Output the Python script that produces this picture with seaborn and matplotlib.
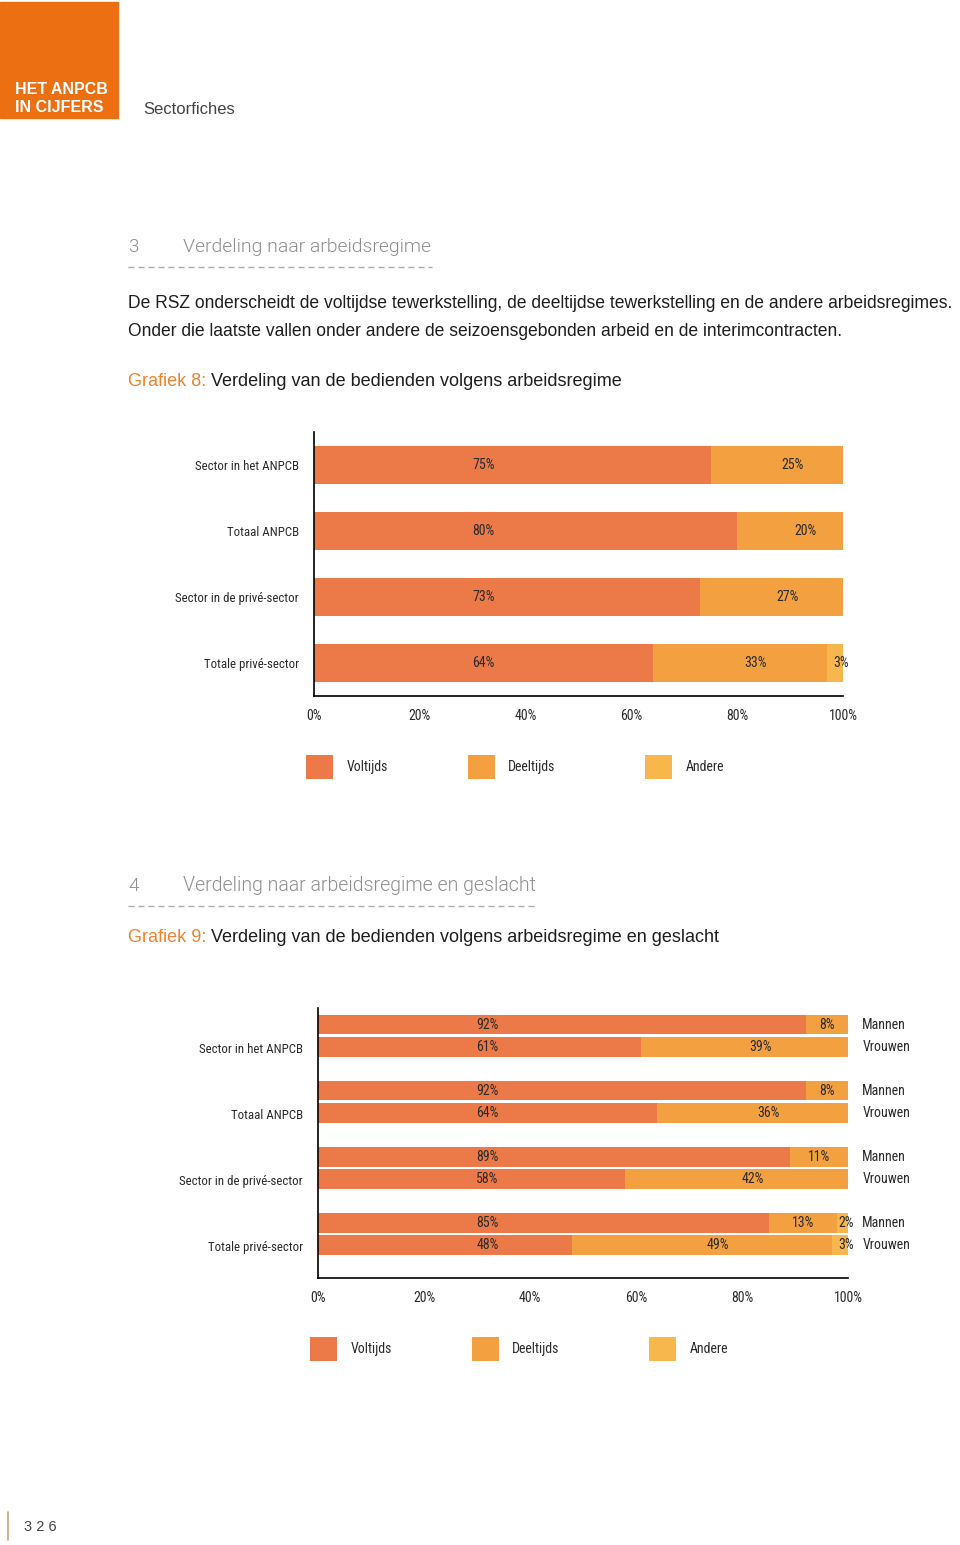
import numpy as np
import pandas as pd
import matplotlib.pyplot as plt
import seaborn as sns
from matplotlib import font_manager as fm
from matplotlib.patches import Rectangle, Patch
from matplotlib.lines import Line2D

# --- Data ---
categories = ["Sector in het ANPCB", "Totaal ANPCB", "Sector in de privé-sector", "Totale privé-sector"]
regimes = ["Voltijds", "Deeltijds", "Andere"]
genders = ["Mannen", "Vrouwen"]
ticks = [0, 20, 40, 60, 80, 100]
tick_labels = ["0%", "20%", "40%", "60%", "80%", "100%"]

# Grafiek 8
g8_voltijds = [75, 80, 73, 64]
g8_deeltijds = [25, 20, 27, 33]
g8_andere = [0, 0, 0, 3]

# Grafiek 9
g9_voltijds_mannen = [92, 92, 89, 85]
g9_deeltijds_mannen = [8, 8, 11, 13]
g9_andere_mannen = [0, 0, 0, 2]
g9_voltijds_vrouwen = [61, 64, 58, 48]
g9_deeltijds_vrouwen = [39, 36, 42, 49]
g9_andere_vrouwen = [0, 0, 0, 3]

# --- Style ---
C_VOLT = '#EC7948'
C_DEEL = '#F3A140'
C_AND = '#F7B74C'
COLORS = [C_VOLT, C_DEEL, C_AND]
ORANGE = '#EC6F12'
TXT = '#2b2b2b'

sns.set_style('white')
plt.rcParams['font.family'] = ['Liberation Sans', 'DejaVu Sans']


def is_regular(f):
    return f.style == 'normal' and f.weight in (400, 'normal', 'regular')


def find_narrow():
    """Look for a condensed sans font file; None if there is none."""
    names = ['Liberation Sans Narrow', 'Roboto Condensed', 'Noto Sans Condensed',
             'Open Sans Condensed', 'DejaVu Sans Condensed', 'Arial Narrow']
    fonts = fm.fontManager.ttflist
    for n in names:
        for f in fonts:
            if f.name == n and is_regular(f):
                return f.fname
    for f in fonts:
        if (f.stretch in ('condensed', 'semi-condensed') and is_regular(f)
                and any(k in f.name for k in ['Sans', 'Roboto', 'Lato', 'Inter'])
                and 'Mono' not in f.name and 'CJK' not in f.name):
            return f.fname
    return None


def find_light():
    """A light-weight sans for the section titles, if installed."""
    for n in ['Roboto', 'Open Sans', 'Lato', 'Inter', 'Noto Sans']:
        for f in fm.fontManager.ttflist:
            if (f.name == n and f.style == 'normal' and f.weight in (300, 'light')
                    and f.stretch == 'normal'):
                return f.fname
    return None


NARROW_PATH = find_narrow()
LIGHT_PATH = find_light()
CH_SIZE = 10 if NARROW_PATH else 8.4


def chart_font(size=CH_SIZE):
    if NARROW_PATH:
        return fm.FontProperties(fname=NARROW_PATH, size=size)
    return fm.FontProperties(family='Liberation Sans', size=size)


W, H = 960, 1545
fig = plt.figure(figsize=(W / 100, H / 100), dpi=100)
renderer = fig.canvas.get_renderer()


def fx(px):
    return px / W


def fy(py):
    return 1 - py / H


def axes_rect(left, top, right, bottom):
    return [fx(left), fy(bottom), (right - left) / W, (bottom - top) / H]


def fit_width(t, width_px):
    """Scale a text's font size so it spans the given width."""
    w = t.get_window_extent(renderer).width
    t.set_fontsize(t.get_fontsize() * width_px / w)


def style_axis(ax, ylim):
    ax.set_xlim(0, 100)
    ax.set_ylim(*ylim)
    ax.set_xlabel('')
    ax.set_ylabel('')
    for s in ['top', 'right']:
        ax.spines[s].set_visible(False)
    for s in ['left', 'bottom']:
        ax.spines[s].set_color('black')
        ax.spines[s].set_linewidth(1.2)
    ax.set_xticks(ticks, tick_labels, fontproperties=chart_font(), color=TXT)
    ax.tick_params(axis='x', direction='in', length=5, width=1.2, color='black', pad=9)
    ax.tick_params(axis='y', length=0, pad=11)
    ax.grid(False)


def value_labels(ax, y, volt, deel, andere):
    kw = dict(fontproperties=chart_font(), color=TXT, va='center', ha='center')
    ax.text(32, y, f'{volt}%', **kw)
    xc = volt + deel / 2 + (3 if deel >= 20 else 0)
    ax.text(xc, y, f'{deel}%', **kw)
    if andere > 0:
        ax.text(99.6, y, f'{andere}%', clip_on=False, **kw)


def legend(y_px, xs_px):
    for name, color, x in zip(regimes, COLORS, xs_px):
        fig.legend([Patch(facecolor=color, edgecolor='none')], [name], loc='center left',
                   bbox_to_anchor=(fx(x), fy(y_px)), frameon=False, handlelength=1.95,
                   handleheight=2.2, handletextpad=0.95, borderpad=0, borderaxespad=0,
                   prop=chart_font(), labelcolor=TXT)


# --- Page header ---
fig.patches.append(Rectangle((0, fy(118)), fx(118), 116 / H, transform=fig.transFigure,
                             color=ORANGE, zorder=0))
fig.text(fx(15), fy(89), 'HET ANPCB', color='white', fontweight='bold', fontsize=11.5, va='center')
fig.text(fx(15), fy(108), 'IN CIJFERS', color='white', fontweight='bold', fontsize=11.5, va='center')
fig.text(fx(143), fy(110), 'Sectorfiches', color='#444444', fontsize=12, va='center')


def section(num, title, y_px, title_end, dash_end):
    if LIGHT_PATH:
        kw = dict(fontproperties=fm.FontProperties(fname=LIGHT_PATH, size=13.6), color='#8f8f8f')
    else:
        kw = dict(fontsize=13.6, color='#a3a3a3')
    fig.text(fx(128), fy(y_px), num, va='center', **kw)
    t = fig.text(fx(183), fy(y_px), title, va='center', **kw)
    fit_width(t, title_end - 183)
    fig.add_artist(Line2D([fx(128), fx(dash_end)], [fy(y_px + 20)] * 2, transform=fig.transFigure,
                          color='#aaaaaa', lw=1, dashes=(4.3, 2.9)))


bg = fig.add_axes([0, 0, 1, 1])
bg.set_axis_off()
bg.set_zorder(-1)


def grafiek(label, title, y_px):
    t = bg.text(fx(128), fy(y_px), label, color='#EE812F', fontsize=13, va='center')
    bg.annotate(' ' + title, xy=(1, 0.5), xycoords=t, va='center', color='#1e1e1e', fontsize=13)


section('3', 'Verdeling naar arbeidsregime', 247, 431, 432)
fig.text(fx(128), fy(304), 'De RSZ onderscheidt de voltijdse tewerkstelling, de deeltijdse '
         'tewerkstelling en de andere arbeidsregimes.', color='#1e1e1e', fontsize=12.65, va='center')
fig.text(fx(128), fy(331), 'Onder die laatste vallen onder andere de seizoensgebonden arbeid '
         'en de interimcontracten.', color='#1e1e1e', fontsize=12.65, va='center')
grafiek('Grafiek 8:', 'Verdeling van de bedienden volgens arbeidsregime', 381)

section('4', 'Verdeling naar arbeidsregime en geslacht', 886, 536, 537)
grafiek('Grafiek 9:', 'Verdeling van de bedienden volgens arbeidsregime en geslacht', 938)

# page number
fig.add_artist(Line2D([fx(8), fx(8)], [fy(1512), fy(1540)], transform=fig.transFigure,
                      color='#c9a57a', lw=1.2))
fig.text(fx(24), fy(1527), '3 2 6', color='#444444', fontsize=10.5, va='center')

# --- Grafiek 8 ---
ax1 = fig.add_axes(axes_rect(314, 432, 843, 696))
df8 = pd.DataFrame({'categorie': categories, 'Voltijds': g8_voltijds,
                    'Deeltijds': g8_deeltijds, 'Andere': g8_andere})
df8['Deeltijds_cum'] = df8['Voltijds'] + df8['Deeltijds']
df8['Andere_cum'] = df8['Deeltijds_cum'] + df8['Andere']
for col, color in [('Andere_cum', C_AND), ('Deeltijds_cum', C_DEEL), ('Voltijds', C_VOLT)]:
    sns.barplot(data=df8, y='categorie', x=col, order=categories, color=color, saturation=1,
                width=0.576, errorbar=None, linewidth=0, ax=ax1)
style_axis(ax1, (3.5, -0.5))
ax1.set_yticks(range(len(categories)), categories, fontproperties=chart_font(CH_SIZE * 0.93),
               color=TXT)
for i in range(len(categories)):
    value_labels(ax1, i, g8_voltijds[i], g8_deeltijds[i], g8_andere[i])
legend(767, [306, 468, 645])

# --- Grafiek 9 ---
ax2 = fig.add_axes(axes_rect(318, 1008, 848, 1278))
rows = []
for i, cat in enumerate(categories):
    rows.append((cat, 'Mannen', g9_voltijds_mannen[i], g9_deeltijds_mannen[i], g9_andere_mannen[i]))
    rows.append((cat, 'Vrouwen', g9_voltijds_vrouwen[i], g9_deeltijds_vrouwen[i], g9_andere_vrouwen[i]))
df9 = pd.DataFrame(rows, columns=['categorie', 'geslacht', 'Voltijds', 'Deeltijds', 'Andere'])
df9['Deeltijds_cum'] = df9['Voltijds'] + df9['Deeltijds']
df9['Andere_cum'] = df9['Deeltijds_cum'] + df9['Andere']
for col, color in [('Andere_cum', C_AND), ('Deeltijds_cum', C_DEEL), ('Voltijds', C_VOLT)]:
    sns.barplot(data=df9, y='categorie', x=col, hue='geslacht', order=categories,
                hue_order=genders, palette=[color, color], saturation=1, width=0.68, gap=0.12,
                dodge=True, errorbar=None, linewidth=0, legend=False, ax=ax2)
style_axis(ax2, (3.667, -0.42))
off = 0.17
ax2.set_yticks(np.arange(len(categories)) + off + 0.02, categories,
               fontproperties=chart_font(CH_SIZE * 0.93), color=TXT)
for i in range(len(categories)):
    value_labels(ax2, i - off, g9_voltijds_mannen[i], g9_deeltijds_mannen[i], g9_andere_mannen[i])
    value_labels(ax2, i + off, g9_voltijds_vrouwen[i], g9_deeltijds_vrouwen[i], g9_andere_vrouwen[i])
    for dy, g in [(-off, 'Mannen'), (off, 'Vrouwen')]:
        ax2.text(102.7, i + dy, g, fontproperties=chart_font(), color=TXT, va='center',
                 ha='left', clip_on=False)
legend(1349, [310, 472, 649])

fig.savefig('out.png', dpi=100)
